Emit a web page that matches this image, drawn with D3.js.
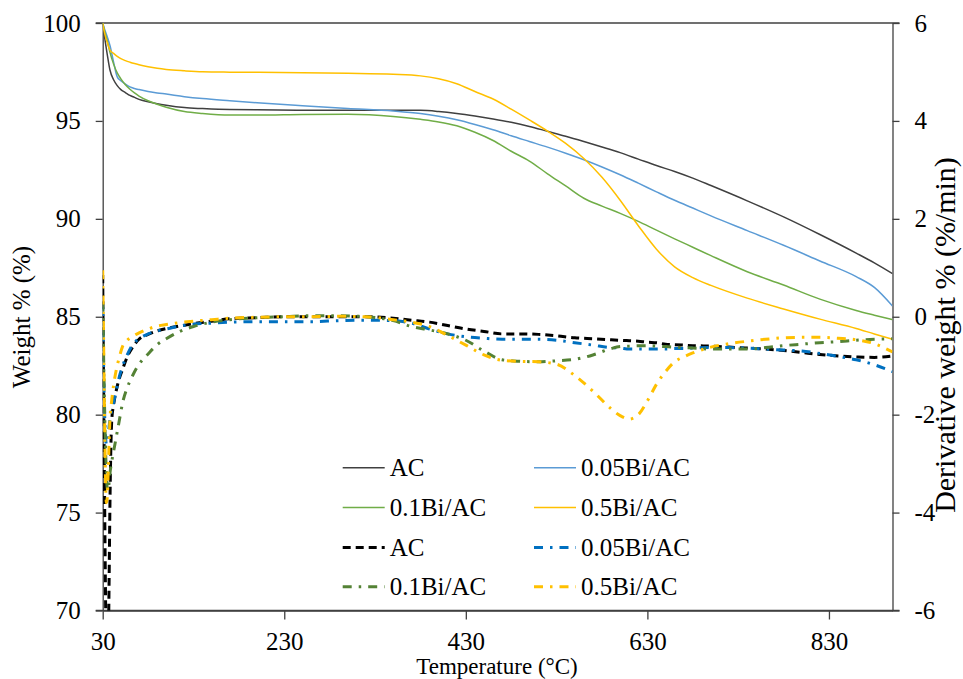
<!DOCTYPE html>
<html><head><meta charset="utf-8">
<script src="https://cdn.jsdelivr.net/npm/d3@7"></script>
<style>
html,body{margin:0;padding:0;background:#fff;}
svg text{font-family:"Liberation Serif","Times New Roman",serif;fill:#000;}
</style></head>
<body><svg id="c" width="963" height="679"></svg>
<script>
// ---------- DATA ----------
const xTicks = [30, 230, 430, 630, 830];
const yLeftTicks = [70, 75, 80, 85, 90, 95, 100];
const yRightTicks = [-6, -4, -2, 0, 2, 4, 6];

// TGA (weight %) temperatures
const tgaTemp = [30,32,35,38,42,46,50,55,60,65,70,80,90,100,120,140,170,200,250,300,350,380,400,420,440,460,480,500,520,540,560,580,600,620,640,660,680,700,740,780,820,860,880,900];
const wAC     = [100,99.3,98.4,97.6,97.1,96.8,96.6,96.45,96.3,96.2,96.1,95.98,95.88,95.8,95.68,95.63,95.58,95.57,95.55,95.55,95.55,95.54,95.48,95.38,95.25,95.1,94.93,94.72,94.47,94.22,93.95,93.67,93.38,93.05,92.72,92.42,92.08,91.7,90.92,90.1,89.2,88.25,87.75,87.2];
const w005    = [100,99.7,99.3,98.85,98.0,97.25,97.05,96.88,96.74,96.66,96.6,96.5,96.43,96.37,96.24,96.14,96.03,95.93,95.78,95.64,95.51,95.38,95.24,95.06,94.82,94.55,94.24,93.95,93.66,93.35,93.02,92.65,92.25,91.82,91.38,90.95,90.55,90.15,89.4,88.65,87.85,87.05,86.5,85.55];
const w01     = [100,99.6,99.1,98.5,97.9,97.45,97.15,96.85,96.62,96.43,96.27,96.03,95.85,95.7,95.48,95.38,95.3,95.3,95.33,95.34,95.23,95.08,94.95,94.75,94.42,94.0,93.45,92.95,92.3,91.68,91.05,90.65,90.28,89.87,89.42,88.98,88.55,88.12,87.3,86.62,85.9,85.32,85.08,84.85];
const w05     = [100,99.5,99.0,98.62,98.45,98.3,98.18,98.08,98.0,97.93,97.87,97.77,97.69,97.63,97.56,97.51,97.49,97.48,97.46,97.43,97.38,97.3,97.15,96.9,96.5,96.12,95.6,95.05,94.48,93.85,93.08,92.12,90.95,89.65,88.45,87.55,87.0,86.6,85.95,85.4,84.88,84.4,84.12,83.85];

// DTG (derivative weight %/min) temperatures
const dtgTemp = [30,31,32,33,34,35,36,37,38,40,42,45,48,52,57,63,70,80,90,100,115,130,150,170,200,230,260,290,320,350,370,390,410,430,450,470,490,510,530,550,570,590,600,610,620,630,640,650,660,670,680,700,720,740,760,780,800,820,840,860,880,900];
const dAC   = [0.85,-1.5,-3.5,-5.5,-7,-7.5,-7,-5.5,-3.8,-2.1,-1.8,-1.5,-1.28,-1.07,-0.82,-0.62,-0.46,-0.36,-0.29,-0.24,-0.19,-0.14,-0.09,-0.04,-0.02,0.0,0.0,0.0,0.0,-0.03,-0.07,-0.11,-0.18,-0.25,-0.3,-0.35,-0.35,-0.36,-0.39,-0.43,-0.45,-0.47,-0.48,-0.49,-0.5,-0.52,-0.53,-0.56,-0.57,-0.58,-0.59,-0.6,-0.62,-0.64,-0.66,-0.69,-0.73,-0.77,-0.8,-0.82,-0.83,-0.8];
const d005  = [0.2,-1.0,-1.9,-2.4,-2.6,-2.6,-2.45,-2.25,-2.1,-1.9,-1.75,-1.5,-1.25,-1.0,-0.78,-0.57,-0.45,-0.35,-0.29,-0.25,-0.19,-0.15,-0.13,-0.11,-0.1,-0.1,-0.1,-0.08,-0.07,-0.08,-0.13,-0.25,-0.35,-0.41,-0.44,-0.46,-0.46,-0.46,-0.48,-0.53,-0.58,-0.63,-0.64,-0.66,-0.66,-0.66,-0.66,-0.66,-0.65,-0.65,-0.64,-0.63,-0.63,-0.64,-0.66,-0.68,-0.7,-0.75,-0.81,-0.88,-0.98,-1.12];
const d01   = [0.3,-0.8,-1.8,-2.6,-3.2,-3.5,-3.55,-3.4,-3.2,-2.95,-2.75,-2.45,-2.15,-1.75,-1.45,-1.2,-0.97,-0.76,-0.57,-0.45,-0.3,-0.2,-0.11,-0.06,-0.02,0.0,0.02,0.02,0.0,-0.08,-0.2,-0.27,-0.35,-0.48,-0.7,-0.88,-0.91,-0.92,-0.9,-0.87,-0.78,-0.65,-0.61,-0.6,-0.59,-0.59,-0.6,-0.61,-0.62,-0.63,-0.64,-0.66,-0.66,-0.66,-0.63,-0.59,-0.56,-0.53,-0.51,-0.48,-0.46,-0.45];
const d05   = [0.95,-0.5,-2.0,-3.2,-3.8,-3.7,-3.2,-2.6,-2.1,-1.7,-1.4,-1.08,-0.85,-0.6,-0.48,-0.4,-0.33,-0.25,-0.19,-0.16,-0.12,-0.09,-0.06,-0.03,-0.01,0.0,0.0,0.01,0.0,-0.06,-0.11,-0.2,-0.38,-0.58,-0.78,-0.89,-0.91,-0.92,-0.97,-1.2,-1.52,-1.88,-2.02,-2.09,-2.0,-1.72,-1.38,-1.12,-0.92,-0.82,-0.74,-0.62,-0.55,-0.5,-0.46,-0.43,-0.42,-0.42,-0.44,-0.47,-0.55,-0.72];

const tgaSeries = [
  {name:"AC", values:wAC, color:"#404040"},
  {name:"0.05Bi/AC", values:w005, color:"#5B9BD5"},
  {name:"0.1Bi/AC", values:w01, color:"#70AD47"},
  {name:"0.5Bi/AC", values:w05, color:"#FFC000"}
];
const dtgSeries = [
  {name:"AC", values:dAC, color:"#000000", dash:"8,5"},
  {name:"0.05Bi/AC", values:d005, color:"#0070C0", dash:"9,7,2.5,7"},
  {name:"0.1Bi/AC", values:d01, color:"#548235", dash:"9,7,2.5,7"},
  {name:"0.5Bi/AC", values:d05, color:"#FFC000", dash:"9,7,2.5,7"}
];

// ---------- LAYOUT ----------
const L = 102.7, R = 892.5, T = 23, B = 610.5;
const FONT = "'Liberation Serif','Times New Roman',serif";
const svg = d3.select("#c");
const x = d3.scaleLinear().domain([30, 900]).range([L, R]);
const yL = d3.scaleLinear().domain([70, 100]).range([B, T]);
const yR = d3.scaleLinear().domain([-6, 6]).range([B, T]);
const axisColor = "#404040";
const FS = 25;

svg.append("defs").append("clipPath").attr("id","clip")
  .append("rect").attr("x",L).attr("y",T).attr("width",R-L).attr("height",B-T);

// frame lines top & bottom
svg.append("line").attr("x1",L-7).attr("x2",R+7).attr("y1",T).attr("y2",T).attr("stroke",axisColor).attr("stroke-width",1.3);
svg.append("line").attr("x1",L-7).attr("x2",R+7).attr("y1",B).attr("y2",B).attr("stroke",axisColor).attr("stroke-width",1.3);

// axes
const gl = svg.append("g").attr("transform",`translate(${L},0)`)
  .call(d3.axisLeft(yL).tickValues(yLeftTicks).tickSize(7).tickSizeOuter(0).tickPadding(15).tickFormat(d3.format("d")));
const gr = svg.append("g").attr("transform",`translate(${R},0)`)
  .call(d3.axisRight(yR).tickValues(yRightTicks).tickSize(7).tickSizeOuter(0).tickPadding(15).tickFormat(d => d < 0 ? "-" + Math.abs(d) : String(d)));
const gb = svg.append("g").attr("transform",`translate(0,${B})`)
  .call(d3.axisBottom(x).tickValues(xTicks).tickSize(9).tickSizeOuter(0).tickPadding(13).tickFormat(d3.format("d")));
[gl,gr,gb].forEach(g=>{
  g.attr("font-family",null).attr("font-size",null);
  g.select(".domain").attr("stroke",axisColor).attr("stroke-width",1.3);
  g.selectAll(".tick line").attr("stroke",axisColor).attr("stroke-width",1.3);
  g.selectAll(".tick text").style("font-family",FONT).style("font-size",FS+"px").attr("fill","#000");
});

// axis titles
svg.append("text").attr("x",497).attr("y",674).attr("text-anchor","middle")
  .style("font-family",FONT).style("font-size","23px").text("Temperature (°C)");
svg.append("text").attr("transform","translate(30,317) rotate(-90)").attr("text-anchor","middle")
  .style("font-family",FONT).style("font-size","25px").text("Weight % (%)");
svg.append("text").attr("transform","translate(955,335) rotate(-90)").attr("text-anchor","middle")
  .style("font-family",FONT).style("font-size","30px").text("Derivative weight % (%/min)");

// lines
const plot = svg.append("g").attr("clip-path","url(#clip)");
tgaSeries.forEach(s=>{
  const line = d3.line().x((d,i)=>x(tgaTemp[i])).y(d=>yL(d)).curve(d3.curveMonotoneX);
  plot.append("path").datum(s.values).attr("d",line).attr("fill","none")
    .attr("stroke",s.color).attr("stroke-width",1.5);
});
dtgSeries.forEach(s=>{
  const line = d3.line().x((d,i)=>x(dtgTemp[i])).y(d=>yR(d)).curve(d3.curveMonotoneX);
  plot.append("path").datum(s.values).attr("d",line).attr("fill","none")
    .attr("stroke",s.color).attr("stroke-width",3).attr("stroke-dasharray",s.dash);
});

// legend
const legendItems = [
  {s:tgaSeries[0], dtg:false}, {s:tgaSeries[1], dtg:false},
  {s:tgaSeries[2], dtg:false}, {s:tgaSeries[3], dtg:false},
  {s:dtgSeries[0], dtg:true}, {s:dtgSeries[1], dtg:true},
  {s:dtgSeries[2], dtg:true}, {s:dtgSeries[3], dtg:true}
];
const colX = [342.7, 534];
const rowY = [467.7, 507.5, 547.5, 586.7];
legendItems.forEach((it,i)=>{
  const cx = colX[i%2], cy = rowY[Math.floor(i/2)];
  const ln = svg.append("line").attr("x1",cx).attr("x2",cx+42).attr("y1",cy).attr("y2",cy)
    .attr("stroke",it.s.color).attr("stroke-width",it.dtg?3:1.5);
  if(it.dtg) ln.attr("stroke-dasharray",it.s.dash);
  svg.append("text").attr("x",cx+47).attr("y",cy+8.5)
    .style("font-family",FONT).style("font-size",FS+"px").text(it.s.name);
});
</script></body></html>
